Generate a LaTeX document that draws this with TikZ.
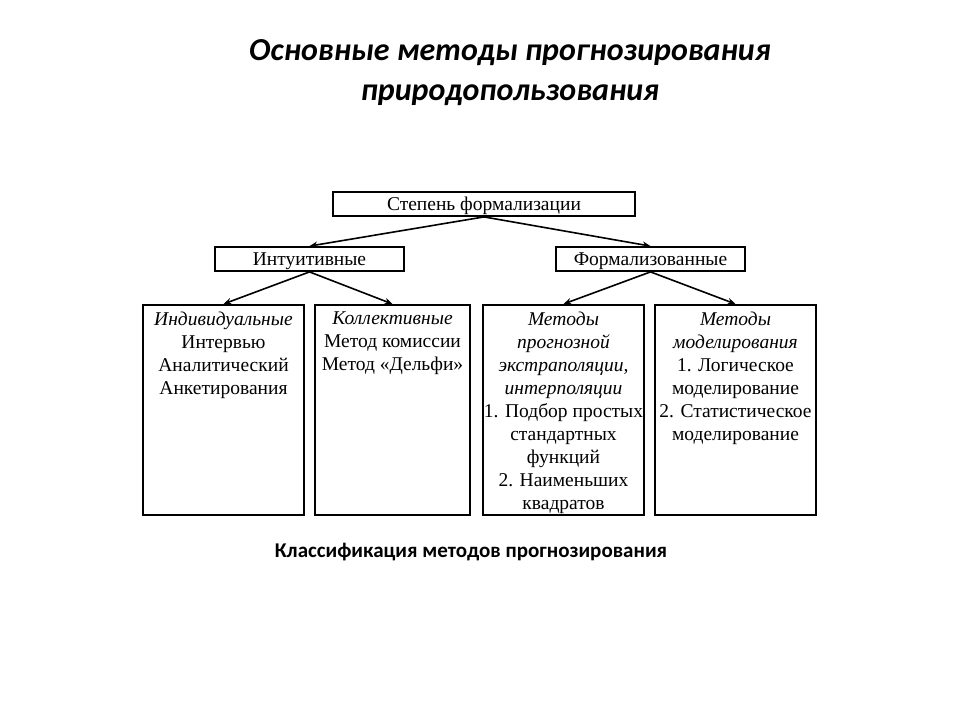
\documentclass[tikz,border=0pt]{standalone}
\usepackage{fontspec}
\setmainfont{Liberation Serif}
\newfontfamily\titlefont{Carlito}
\usetikzlibrary{arrows.meta}
\begin{document}
\begin{tikzpicture}[x=1pt,y=-1pt,
  hbox/.style={draw,line width=1.8pt,inner sep=0pt,minimum height=24pt,text height=13pt,text depth=1pt,font=\fontsize{19.5}{22}\selectfont},
  colbox/.style={draw,line width=1.8pt,inner sep=0pt,minimum height=210pt,anchor=north},
  coltext/.style={anchor=north,align=center,inner sep=0pt,font=\fontsize{19.5}{23}\selectfont},
  arr/.style={line width=1.6pt,-{Stealth[length=8pt,width=6.5pt]}}]
\useasboundingbox[fill=white] (0,0) rectangle (960,720);
\node[font=\titlefont\bfseries\itshape\fontsize{32}{40}\selectfont,align=center] (title) at (510,73) {Основные методы прогнозирования\\природопользования};
\node[hbox,minimum width=302pt] (top) at (484,204) {Степень формализации};
\node[hbox,minimum width=189pt] (intu) at (309.5,259) {Интуитивные};
\node[hbox,minimum width=189pt] (form) at (650.5,259) {Формализованные};
\node[colbox,minimum width=161pt] (b1) at (223.5,304) {};
\node[colbox,minimum width=155pt] (b2) at (392.5,304) {};
\node[colbox,minimum width=161pt] (b3) at (563.5,304) {};
\node[colbox,minimum width=161pt] (b4) at (735.5,304) {};
\node[coltext] (t1) at (223.5,312) {\textit{Индивидуальные}\\Интервью\\Аналитический\\Анкетирования};
\node[coltext] (t2) at (392.5,312) {\textit{Коллективные}\\Метод комиссии\\Метод «Дельфи»};
\node[coltext] (t3) at (563.5,312) {\textit{Методы}\\\textit{прогнозной}\\\textit{экстраполяции,}\\\textit{интерполяции}\\1. Подбор простых\\стандартных\\функций\\2. Наименьших\\квадратов};
\node[coltext] (t4) at (735.5,312) {\textit{Методы}\\\textit{моделирования}\\1. Логическое\\моделирование\\2. Статистическое\\моделирование};
\node[font=\titlefont\bfseries\fontsize{21}{24}\selectfont] (cap) at (471,552) {Классификация методов прогнозирования};
\draw[arr] (top.south) -- (intu.north);
\draw[arr] (top.south) -- (form.north);
\draw[arr] (intu.south) -- (b1.north);
\draw[arr] (intu.south) -- (b2.north);
\draw[arr] (form.south) -- (b3.north);
\draw[arr] (form.south) -- (b4.north);
\end{tikzpicture}
\end{document}
